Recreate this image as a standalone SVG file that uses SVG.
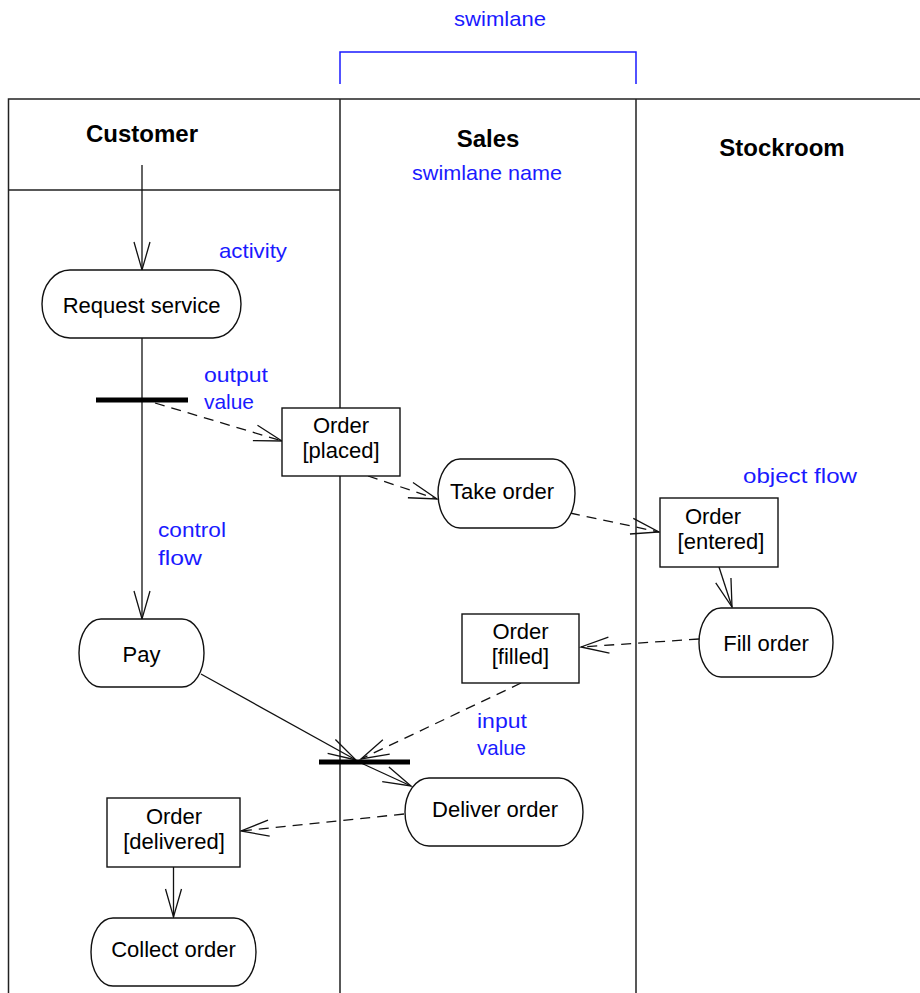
<svg xmlns="http://www.w3.org/2000/svg" width="920" height="993" viewBox="0 0 920 993">
<style>
.frame{fill:none;stroke:#222;stroke-width:1.5}
.node{fill:#fff;stroke:#111;stroke-width:1.4}
.bar{fill:#000}
.t{font-family:"Liberation Sans",Arial,sans-serif;font-size:22px;fill:#000;text-anchor:middle}
.h{font-family:"Liberation Sans",Arial,sans-serif;font-size:24px;font-weight:bold;fill:#000;text-anchor:middle}
.note{font-family:"Liberation Sans",Arial,sans-serif;font-size:21px;fill:#1a1aff}
.flow{fill:none;stroke:#111;stroke-width:1.3;marker-end:url(#arr)}
.obj{fill:none;stroke:#111;stroke-width:1.3;stroke-dasharray:10 7;marker-end:url(#arr)}
</style>
<defs>
<marker id="arr" markerUnits="userSpaceOnUse" markerWidth="32" markerHeight="20" refX="28" refY="8" orient="auto" overflow="visible">
<path d="M0,0 L28,8 L0,16" fill="none" stroke="#111" stroke-width="1.3" stroke-dasharray="none"/>
</marker>
</defs>
<rect width="920" height="993" fill="#fff"/>
<g id="swimlanes">
<path class="frame" d="M8.5,993 V99 H920 M340,99 V993 M636,99 V993 M8.5,190 H340"/>
<text class="h" x="142" y="142">Customer</text>
<text class="h" x="488" y="147">Sales</text>
<text class="h" x="782" y="156">Stockroom</text>
</g>
<g id="annotations">
<path d="M340,84 V52 H636 V84" fill="none" stroke="#1a1aff" stroke-width="1.5"/>
<text class="note" x="454" y="26" textLength="92" lengthAdjust="spacingAndGlyphs">swimlane</text>
<text class="note" x="412" y="180" textLength="150" lengthAdjust="spacingAndGlyphs">swimlane name</text>
<text class="note" x="219" y="258" textLength="68" lengthAdjust="spacingAndGlyphs">activity</text>
<text class="note" x="204" y="382" textLength="64" lengthAdjust="spacingAndGlyphs">output</text>
<text class="note" x="204" y="409" textLength="50" lengthAdjust="spacingAndGlyphs">value</text>
<text class="note" x="158" y="537" textLength="68" lengthAdjust="spacingAndGlyphs">control</text>
<text class="note" x="158" y="565" textLength="44" lengthAdjust="spacingAndGlyphs">flow</text>
<text class="note" x="743" y="483" textLength="114" lengthAdjust="spacingAndGlyphs">object flow</text>
<text class="note" x="477" y="728" textLength="50" lengthAdjust="spacingAndGlyphs">input</text>
<text class="note" x="477" y="755" textLength="49" lengthAdjust="spacingAndGlyphs">value</text>
</g>
<g id="connectors">
<path class="flow" d="M142,165 V270"/>
<path d="M142,338 V619" class="flow"/>
<path class="obj" d="M155,403 L282,441"/>
<path class="obj" d="M368,476 L437,499"/>
<path class="obj" d="M570,513 L659,532"/>
<path class="flow" d="M719,567 L732,607"/>
<path class="obj" d="M699,639 L581,647"/>
<path class="flow" d="M201,674 L356,760"/>
<path class="obj" d="M521,683 L361,759"/>
<path class="flow" d="M361,763 L411,786"/>
<path class="obj" d="M404,814 L241,831"/>
<path class="flow" d="M173.5,867 V917"/>
</g>
<g id="fork"><rect class="bar" x="96" y="397.5" width="92" height="5"/></g>
<g id="join"><rect class="bar" x="319" y="759.5" width="91" height="5"/></g>
<g id="request-service">
<rect class="node" x="42" y="270" width="199" height="68" rx="28" ry="34"/>
<text class="t" x="141.5" y="313">Request service</text>
</g>
<g id="order-placed">
<rect class="node" x="282" y="408" width="118" height="68"/>
<text class="t" x="341" y="433">Order</text>
<text class="t" x="341" y="458">[placed]</text>
</g>
<g id="take-order">
<rect class="node" x="438" y="459" width="137" height="69" rx="22" ry="34.5"/>
<text class="t" x="502" y="499">Take order</text>
</g>
<g id="order-entered">
<rect class="node" x="660" y="498" width="118" height="69"/>
<text class="t" x="713" y="524">Order</text>
<text class="t" x="721" y="549">[entered]</text>
</g>
<g id="fill-order">
<rect class="node" x="699" y="608" width="134" height="69" rx="22" ry="34.5"/>
<text class="t" x="766" y="651">Fill order</text>
</g>
<g id="order-filled">
<rect class="node" x="462" y="614" width="117" height="69"/>
<text class="t" x="520.5" y="639">Order</text>
<text class="t" x="520.5" y="664">[filled]</text>
</g>
<g id="pay">
<rect class="node" x="79" y="619" width="125" height="68" rx="22" ry="34"/>
<text class="t" x="141.5" y="662">Pay</text>
</g>
<g id="deliver-order">
<rect class="node" x="405" y="778" width="178" height="68" rx="24" ry="34"/>
<text class="t" x="495" y="817">Deliver order</text>
</g>
<g id="order-delivered">
<rect class="node" x="107" y="798" width="133" height="69"/>
<text class="t" x="174" y="824">Order</text>
<text class="t" x="174" y="849">[delivered]</text>
</g>
<g id="collect-order">
<rect class="node" x="91" y="918" width="165" height="68" rx="22" ry="34"/>
<text class="t" x="173.5" y="957">Collect order</text>
</g>
</svg>
